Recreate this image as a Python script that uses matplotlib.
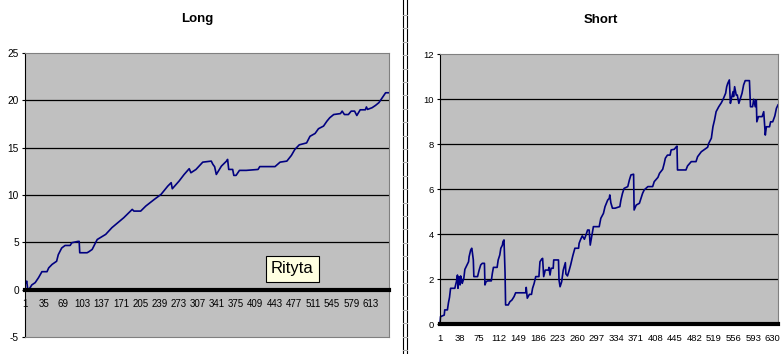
import matplotlib
matplotlib.use('Agg')
import matplotlib.pyplot as plt
from matplotlib.patches import Rectangle
from matplotlib.lines import Line2D

plt.rcParams['font.family'] = ['Liberation Sans', 'DejaVu Sans']

# ---------------- data ----------------
long_x = [1, 3, 4, 6, 10, 13, 19, 25, 31, 40, 43, 49, 57, 60, 66, 72, 81, 84, 95, 97,
          98, 111, 114, 120, 123, 126, 129, 144, 155, 164, 176, 191, 194, 206, 215, 230,
          242, 254, 260, 262, 274, 283, 292, 295, 304, 316, 331, 334, 337, 340, 349, 358,
          360, 362, 369, 371, 375, 381, 393, 414, 417, 444, 453, 465, 473, 479, 487, 500,
          506, 515, 521, 530, 536, 541, 548, 560, 563, 567, 574, 579, 585, 589, 595, 604,
          606, 608, 616, 622, 628, 634, 640, 646]
long_y = [0.74, 0.74, 0.9, -0.05, 0.2, 0.5, 0.74, 1.27, 1.9, 1.9, 2.3, 2.67, 3.0, 3.7, 4.4,
          4.67, 4.67, 4.96, 5.1, 5.1, 3.9, 3.9, 4.0, 4.25, 4.6, 4.96, 5.3, 5.84, 6.55, 7.0,
          7.6, 8.48, 8.3, 8.3, 8.83, 9.53, 10.06, 10.94, 11.3, 10.66, 11.47, 12.17, 12.78,
          12.35, 12.7, 13.47, 13.58, 13.23, 12.99, 12.17, 13.05, 13.58, 13.76, 12.7, 12.7,
          12.07, 12.07, 12.6, 12.6, 12.7, 13.0, 13.0, 13.47, 13.58, 14.18, 14.8, 15.3, 15.5,
          16.2, 16.5, 17.0, 17.28, 17.8, 18.16, 18.5, 18.6, 18.86, 18.5, 18.5, 18.86, 18.86,
          18.4, 19.0, 19.0, 19.3, 19.04, 19.22, 19.46, 19.75, 20.27, 20.8, 20.8]

short_x = [1, 2, 5, 9, 10, 15, 17, 19, 21, 29, 32, 34, 35, 37, 39, 40, 42, 43, 46, 48, 52,
           55, 56, 59, 61, 62, 64, 65, 72, 75, 78, 81, 85, 86, 88, 91, 98, 100, 102, 109,
           111, 114, 116, 119, 120, 122, 124, 125, 130, 133, 137, 141, 144, 163, 164, 166,
           170, 174, 176, 179, 182, 188, 190, 193, 195, 197, 200, 206, 207, 209, 211, 215,
           216, 225, 226, 228, 231, 234, 238, 239, 242, 245, 248, 252, 256, 263, 264, 267,
           270, 274, 277, 280, 283, 285, 288, 291, 302, 305, 310, 313, 318, 321, 322, 324,
           327, 332, 341, 343, 346, 349, 356, 359, 362, 367, 368, 372, 378, 381, 384, 387,
           394, 403, 406, 413, 416, 422, 425, 427, 431, 436, 438, 444, 447, 449, 450, 466,
           469, 476, 485, 488, 495, 507, 509, 514, 517, 520, 523, 528, 533, 537, 541, 543,
           545, 548, 550, 552, 555, 556, 558, 561, 563, 566, 569, 572, 575, 578, 586, 588,
           592, 594, 597, 599, 600, 603, 610, 613, 615, 616, 618, 624, 626, 630, 634, 637, 640]
short_y = [0.04, 0.34, 0.37, 0.41, 0.64, 0.64, 0.96, 1.2, 1.6, 1.6, 1.89, 2.19, 1.6, 2.11,
           1.75, 2.15, 1.97, 1.82, 2.04, 2.44, 2.64, 2.78, 3.0, 3.3, 3.38, 3.23, 2.86, 2.12,
           2.12, 2.41, 2.64, 2.71, 2.71, 1.75, 1.89, 1.93, 1.93, 2.27, 2.53, 2.53, 2.86, 3.08,
           3.38, 3.52, 3.67, 3.75, 2.27, 0.86, 0.86, 1.0, 1.08, 1.23, 1.4, 1.4, 1.64, 1.16,
           1.33, 1.33, 1.6, 1.82, 2.12, 2.12, 2.78, 2.89, 2.93, 2.12, 2.41, 2.41, 2.53, 2.19,
           2.49, 2.49, 2.86, 2.86, 1.97, 1.67, 1.89, 2.41, 2.74, 2.24, 2.15, 2.38, 2.64, 3.04,
           3.38, 3.38, 3.6, 3.78, 3.93, 3.78, 3.97, 4.19, 4.19, 3.52, 3.93, 4.34, 4.34, 4.71,
           4.93, 5.23, 5.52, 5.6, 5.75, 5.4, 5.16, 5.16, 5.23, 5.52, 5.82, 6.04, 6.12, 6.41,
           6.64, 6.67, 5.08, 5.3, 5.38, 5.6, 5.82, 5.97, 6.12, 6.12, 6.34, 6.53, 6.71, 6.89,
           7.16, 7.38, 7.52, 7.52, 7.75, 7.78, 7.87, 7.92, 6.86, 6.86, 7.04, 7.23, 7.23, 7.45,
           7.67, 7.87, 8.04, 8.27, 8.78, 9.08, 9.45, 9.67, 9.85, 10.04, 10.27, 10.56, 10.71,
           10.86, 9.82, 10.04, 10.34, 10.12, 10.56, 10.19, 10.19, 9.82, 10.04, 10.27, 10.64,
           10.83, 10.83, 9.67, 9.67, 10.0, 9.67, 9.97, 9.0, 9.23, 9.23, 9.45, 8.78, 8.41,
           8.78, 8.78, 9.0, 9.0, 9.26, 9.6, 9.75]

long_n = 646
short_n = 640
long_xticks = [1, 35, 69, 103, 137, 171, 205, 239, 273, 307, 341, 375, 409, 443, 477,
               511, 545, 579, 613]
short_xticks = [1, 38, 75, 112, 149, 186, 223, 260, 297, 334, 371, 408, 445, 482, 519,
                556, 593, 630]
long_yticks = [-5, 0, 5, 10, 15, 20, 25]
short_yticks = [0, 2, 4, 6, 8, 10, 12]
titles = ["Long", "Short"]
tooltip = "Rityta"

# ---------------- figure ----------------
W, H = 783, 354
fig = plt.figure(figsize=(W / 100, H / 100), dpi=100)
fig.patch.set_facecolor('white')


def px_rect(l, t, r, b):
    return [l / W, 1 - b / H, (r - l) / W, (b - t) / H]


def style(ax, xticks, yticks, n, fs_y, fs_x):
    ax.set_facecolor('#C0C0C0')
    ax.set_xlim(1, n)
    ax.set_ylim(yticks[0], yticks[-1])
    for v in yticks[1:-1]:
        if v != 0:
            ax.axhline(v, color='black', lw=0.9, zorder=1)
    for s in ('top', 'right'):
        ax.spines[s].set_color('#808080')
        ax.spines[s].set_linewidth(0.8)
    ax.spines['left'].set_color('black')
    ax.spines['left'].set_linewidth(0.8)
    ax.spines['bottom'].set_position(('data', 0))
    ax.spines['bottom'].set_color('black')
    ax.spines['bottom'].set_linewidth(3.0)
    ax.spines['bottom'].set_zorder(4)
    ax.plot([0, 1], [0, 0], transform=ax.transAxes, color='#808080', lw=0.8,
            clip_on=False, zorder=3)
    ax.set_xticks(xticks)
    ax.set_xticklabels([str(t) for t in xticks], fontsize=fs_x)
    ax.tick_params(axis='x', length=0, pad=7)
    ax.set_yticks(yticks)
    ax.set_yticklabels([str(t) for t in yticks], fontsize=fs_y)
    ax.tick_params(axis='y', direction='out', length=2.5, width=0.8, pad=2)


axL = fig.add_axes(px_rect(25, 53, 389, 337))
style(axL, long_xticks, long_yticks, long_n, 7.3, 7.0)
axL.plot(long_x, long_y, color='#000080', lw=1.2, zorder=2)

axR = fig.add_axes(px_rect(440, 54.3, 778, 324.3))
style(axR, short_xticks, short_yticks, short_n, 6.8, 6.8)
axR.plot(short_x, short_y, color='#000080', lw=1.2, zorder=2, clip_on=False)

# titles
fig.text(197 / W, 1 - 21.7 / H, titles[0], ha='center', va='baseline',
         fontsize=9.5, fontweight='bold')
fig.text(601 / W, 1 - 23 / H, titles[1], ha='center', va='baseline',
         fontsize=9.5, fontweight='bold')

# tooltip box
fig.add_artist(Rectangle((266 / W, 1 - 282 / H), 53 / W, 26 / H,
                         transform=fig.transFigure, facecolor='#FFFFE1',
                         edgecolor='black', lw=0.8, zorder=10))
fig.text(292.5 / W, 1 - 269 / H, tooltip, ha='center', va='center',
         fontsize=12, zorder=11)

# separator between the two charts
for xp in (403.3, 406.7):
    fig.add_artist(Line2D([xp / W, xp / W], [0, 1], transform=fig.transFigure,
                          color='black', lw=0.8))
yp = 15.0
while yp < H:
    fig.add_artist(Line2D([403.3 / W, 406.7 / W], [1 - yp / H, 1 - yp / H],
                          transform=fig.transFigure, color='#B0B0B0', lw=0.8))
    yp += 13.4

fig.savefig('out.png', dpi=100)
